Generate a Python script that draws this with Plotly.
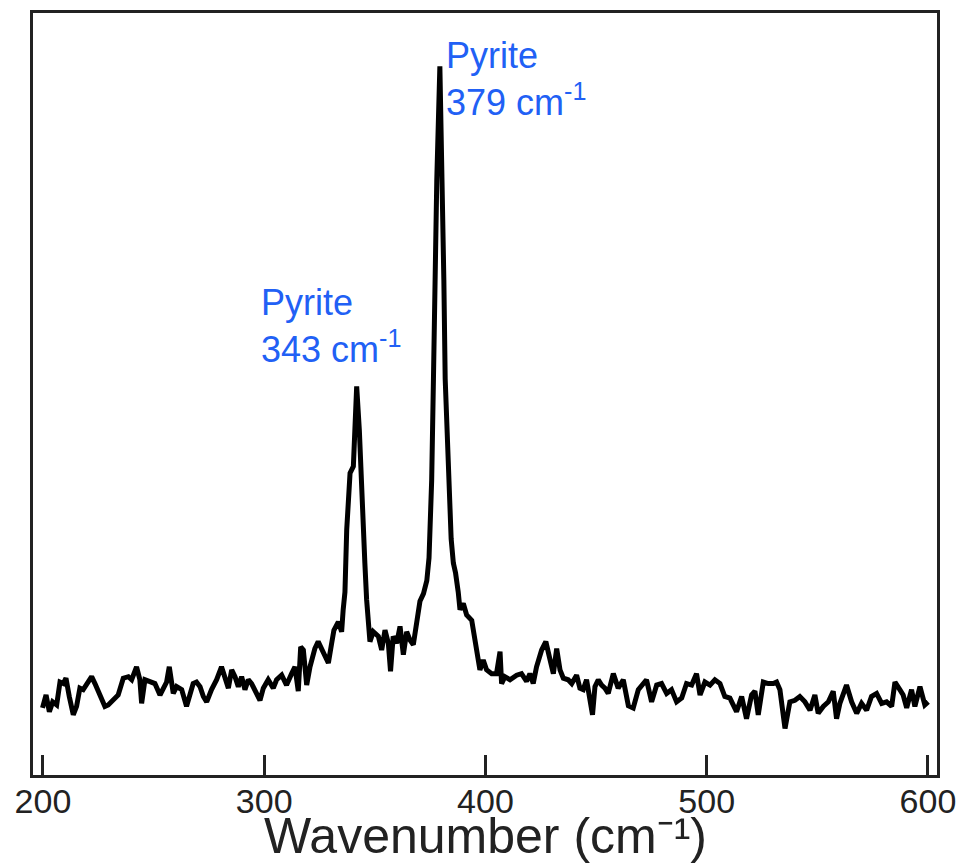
import plotly.graph_objects as go

wavenumber = [
    199.8, 201.4, 202.9, 204.4, 206.2, 207.7, 209.2, 210.4, 211.9, 213.7,
    215.2, 216.7, 218.2, 219.7, 222.0, 223.5, 225.0, 226.5, 228.0, 229.5,
    231.0, 232.5, 234.0, 236.3, 238.6, 240.1, 242.3, 243.8, 244.6, 246.1,
    248.4, 250.6, 252.9, 254.4, 255.9, 257.1, 258.2, 258.9, 260.4, 262.7,
    264.9, 266.4, 267.9, 269.4, 271.0, 272.5, 274.0, 276.2, 278.5, 280.7,
    282.3, 283.8, 285.3, 286.8, 288.3, 289.8, 291.3, 292.8, 294.3, 295.8,
    298.1, 299.6, 301.8, 304.1, 305.6, 307.9, 310.1, 312.4, 313.9, 315.4,
    316.5, 317.7, 319.2, 320.7, 322.9, 324.4, 326.7, 329.0, 330.5, 331.5,
    333.5, 335.0, 335.7, 336.5, 337.3, 338.8, 340.3, 341.0, 341.8, 343.0,
    344.0, 345.5, 346.3, 347.0, 347.8, 349.3, 351.6, 353.1, 354.6, 356.1,
    357.1, 358.3, 359.9, 361.4, 362.9, 364.4, 365.9, 367.4, 368.9, 370.4,
    372.0, 373.5, 374.5, 375.7, 376.5, 377.2, 378.0, 379.4, 380.5, 381.2,
    381.8, 383.2, 384.5, 385.5, 386.5, 387.7, 388.5, 390.0, 391.5, 393.8,
    395.3, 396.8, 397.5, 399.0, 400.5, 402.8, 405.0, 406.6, 407.3, 408.8,
    411.1, 414.1, 416.3, 418.6, 420.1, 421.6, 423.1, 425.4, 427.3, 428.9,
    430.7, 432.2, 433.7, 435.2, 437.4, 439.0, 441.2, 442.7, 444.2, 445.7,
    447.2, 448.4, 449.5, 451.0, 452.5, 454.0, 455.5, 457.8, 460.0, 462.3,
    464.6, 466.8, 469.1, 472.8, 475.1, 477.4, 479.6, 481.9, 484.1, 486.4,
    488.7, 490.9, 493.2, 495.4, 497.0, 499.2, 501.5, 503.7, 506.0, 508.2,
    510.5, 513.5, 515.8, 518.0, 520.3, 521.8, 523.3, 525.6, 527.8, 530.1,
    531.6, 533.1, 535.4, 537.6, 539.9, 542.1, 544.4, 546.7, 548.9, 550.4,
    552.7, 555.0, 557.2, 558.7, 560.2, 563.2, 565.5, 567.8, 570.0, 572.3,
    574.5, 576.8, 579.1, 581.3, 583.6, 585.1, 587.3, 588.8, 590.4, 592.6,
    594.1, 596.4, 598.6, 600.1,
]

intensity = [
    8.8, 10.5, 8.3, 9.6, 9.2, 12.2, 12.0, 12.7, 10.3, 7.9,
    9.0, 11.4, 11.2, 11.8, 12.9, 12.0, 11.0, 10.3, 9.0, 9.2,
    9.6, 10.1, 10.5, 12.7, 12.9, 12.5, 14.2, 12.5, 9.4, 12.5,
    12.2, 12.0, 10.5, 11.4, 12.2, 14.2, 12.2, 10.7, 11.6, 11.2,
    9.0, 10.3, 12.0, 12.2, 11.6, 10.3, 9.6, 11.2, 12.5, 14.2,
    12.9, 11.4, 13.8, 12.9, 11.6, 12.9, 11.2, 12.5, 12.0, 11.0,
    9.8, 11.4, 12.5, 11.4, 12.5, 13.1, 11.8, 13.3, 14.2, 11.0,
    16.8, 16.4, 11.8, 14.2, 16.6, 17.5, 16.1, 14.7, 17.3, 19.0,
    20.1, 18.8, 21.7, 24.0, 32.2, 39.6, 40.5, 46.6, 51.0, 45.3,
    36.5, 27.8, 23.0, 19.5, 17.5, 18.8, 18.2, 16.4, 19.0, 17.3,
    13.6, 18.2, 17.3, 19.5, 15.8, 18.8, 17.7, 17.1, 20.3, 22.8,
    23.8, 25.5, 28.5, 38.7, 52.0, 65.0, 78.0, 93.0, 78.0, 65.0,
    52.0, 38.7, 31.0, 27.8, 26.5, 24.0, 21.7, 22.5, 21.0, 20.3,
    17.3, 15.1, 13.8, 15.1, 13.8, 13.3, 13.3, 16.2, 12.0, 12.9,
    12.5, 13.1, 13.3, 12.3, 13.3, 12.0, 14.2, 16.4, 17.5, 15.5,
    13.3, 16.6, 13.8, 12.7, 12.5, 12.0, 13.1, 11.4, 11.2, 12.5,
    10.1, 7.9, 11.6, 12.5, 11.8, 11.4, 10.7, 13.3, 11.4, 12.5,
    9.1, 8.8, 11.2, 12.5, 9.6, 11.8, 12.0, 10.7, 11.2, 9.6,
    10.1, 12.0, 11.8, 13.3, 10.5, 12.2, 11.8, 12.5, 12.0, 10.3,
    10.1, 8.3, 10.3, 7.4, 10.5, 11.0, 7.9, 12.2, 12.0, 12.0,
    12.2, 11.2, 6.1, 9.6, 9.8, 10.3, 9.6, 8.5, 10.5, 8.1,
    9.0, 9.6, 11.0, 7.4, 9.4, 11.8, 9.6, 8.1, 9.4, 8.5,
    10.3, 10.7, 9.4, 9.6, 9.0, 12.2, 11.2, 10.5, 8.8, 11.2,
    9.0, 11.6, 9.2, 9.6,
]

tick_values = [200, 300, 400, 500, 600]
tick_labels = ["200", "300", "400", "500", "600"]

peak_positions = [297.6, 381.2]
peak_label_heights = [64.9, 97.4]
peak_labels = ["Pyrite<br>343 cm<sup>-1</sup>", "Pyrite<br>379 cm<sup>-1</sup>"]

x_title = "Wavenumber (cm⁻¹)"

FONT = "Liberation Sans, Arial, sans-serif"

fig = go.Figure()
fig.add_trace(go.Scatter(
    x=wavenumber, y=intensity, mode="lines",
    line=dict(color="black", width=5),
    showlegend=False, hoverinfo="skip",
))

for px, py, txt in zip(peak_positions, peak_label_heights, peak_labels):
    fig.add_annotation(
        x=px, y=py, xref="x", yref="y", text=txt, showarrow=False,
        xanchor="left", yanchor="top", align="left",
        font=dict(family=FONT, size=36, color="#2160f5"),
    )

fig.add_annotation(
    x=0.5, y=-0.119, xref="paper", yref="paper", text=x_title, showarrow=False,
    xanchor="center", yanchor="bottom",
    font=dict(family=FONT, size=50, color="#222222"),
)

fig.update_layout(
    width=966, height=865,
    margin=dict(l=33, r=29, t=13, b=90),
    paper_bgcolor="white", plot_bgcolor="white",
    font=dict(family=FONT, color="#222222"),
)

fig.update_xaxes(
    range=[195.5, 604.1],
    tickmode="array", tickvals=tick_values, ticktext=tick_labels,
    ticks="inside", ticklen=20, tickwidth=2.5, tickcolor="#222222",
    tickfont=dict(size=34, color="#222222"),
    ticklabelstandoff=-6,
    showline=True, linecolor="#222222", linewidth=3, mirror=True,
    showgrid=False, zeroline=False,
    automargin=False,
)
fig.update_yaxes(
    range=[0, 100],
    showticklabels=False, ticks="",
    showline=True, linecolor="#222222", linewidth=3, mirror=True,
    showgrid=False, zeroline=False,
    automargin=False,
)

fig.write_html("out.html")
